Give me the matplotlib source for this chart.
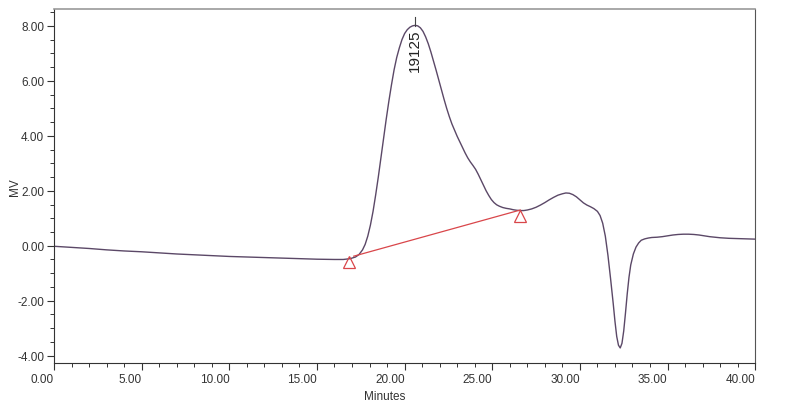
import matplotlib
matplotlib.use("Agg")
import matplotlib.pyplot as plt
from matplotlib.ticker import MultipleLocator, FormatStrFormatter

plt.rcParams['font.family'] = ['Liberation Sans', 'DejaVu Sans']

# chromatogram trace (minutes, MV)
minutes = [0.0, 1.0, 2.0, 3.0, 4.0, 5.0, 6.0, 7.0, 8.0, 9.0, 10.0, 11.0, 12.0,
           13.0, 14.0, 15.0, 16.0, 16.5, 16.9, 17.2, 17.4, 17.6, 17.75, 17.9,
           18.05, 18.2, 18.35, 18.5, 18.65, 18.8, 18.95, 19.1, 19.25, 19.4,
           19.55, 19.7, 19.85, 20.0, 20.15, 20.3, 20.45, 20.6, 20.75, 20.9,
           21.05, 21.2, 21.35, 21.5, 21.65, 21.8, 21.95, 22.1, 22.25, 22.4,
           22.55, 22.7, 22.85, 23.0, 23.15, 23.3, 23.45, 23.6, 23.75, 23.9,
           24.05, 24.2, 24.35, 24.5, 24.65, 24.8, 24.95, 25.1, 25.25, 25.4,
           25.6, 25.8, 26.0, 26.2, 26.4, 26.6, 26.8, 27.0, 27.25, 27.5, 27.75,
           28.0, 28.25, 28.5, 28.75, 29.0, 29.2, 29.4, 29.6, 29.8, 30.0, 30.2,
           30.4, 30.6, 30.8, 31.0, 31.15, 31.3, 31.45, 31.6, 31.75, 31.9,
           32.0, 32.1, 32.2, 32.3, 32.4, 32.5, 32.6, 32.7, 32.8, 32.9, 33.05,
           33.2, 33.35, 33.5, 33.7, 33.9, 34.1, 34.4, 34.7, 35.0, 35.3, 35.6,
           35.9, 36.2, 36.5, 36.8, 37.1, 37.4, 37.7, 38.0, 38.5, 39.0, 39.5,
           40.0]
mv = [-0.02, -0.06, -0.10, -0.15, -0.19, -0.22, -0.26, -0.30, -0.33, -0.36,
      -0.39, -0.41, -0.43, -0.45, -0.47, -0.49, -0.50, -0.50, -0.47, -0.41,
      -0.32, -0.15, 0.05, 0.35, 0.75, 1.25, 1.85, 2.5, 3.2, 3.9, 4.6, 5.25,
      5.85, 6.4, 6.85, 7.2, 7.5, 7.72, 7.86, 7.95, 8.0, 8.02, 8.0, 7.93,
      7.8, 7.6, 7.35, 7.05, 6.72, 6.38, 6.03, 5.68, 5.33, 5.0, 4.7, 4.43,
      4.2, 3.98, 3.78, 3.58, 3.38, 3.2, 3.05, 2.92, 2.78, 2.6, 2.4, 2.2,
      2.0, 1.83, 1.68, 1.57, 1.49, 1.44, 1.39, 1.36, 1.34, 1.31, 1.29,
      1.28, 1.28, 1.30, 1.34, 1.40, 1.48, 1.57, 1.67, 1.76, 1.84, 1.89,
      1.92, 1.91, 1.86, 1.78, 1.67, 1.56, 1.48, 1.42, 1.35, 1.25, 1.1,
      0.82, 0.35, -0.35, -1.2, -2.1, -2.75, -3.3, -3.62, -3.72, -3.55,
      -3.1, -2.45, -1.75, -1.15, -0.7, -0.3, -0.05, 0.1, 0.2, 0.25, 0.28,
      0.3, 0.31, 0.33, 0.36, 0.39, 0.41, 0.42, 0.42, 0.41, 0.39, 0.36,
      0.33, 0.31, 0.29, 0.27, 0.26, 0.25, 0.24]

# integration baseline and its start/end markers
base_x = [17.1, 26.6]
base_y = [-0.38, 1.30]
marker_x = [16.85, 26.58]
marker_y = [-0.58, 1.08]

peak_x = 20.6
peak_top = 8.33
peak_label = "19125"

fig = plt.figure(figsize=(8, 4.1), dpi=100)
ax = fig.add_axes([0.0675, 0.112, 0.8765, 0.864])

ax.plot(minutes, mv, color="#5b4867", lw=1.0)
ax.plot(base_x, base_y, color="#d9464a", lw=0.9)
ax.plot(marker_x, marker_y, ls="none", marker="^", ms=8, mfc="none",
        mec="#d9464a", mew=0.9)

# peak tick and label
ax.plot([peak_x, peak_x], [8.0, peak_top], color="#444444", lw=0.8)
ax.text(peak_x, 7.13, peak_label, rotation=90, ha="center", va="center",
        fontsize=11, color="#222222")

ax.set_xlim(0, 40.0)
ax.set_ylim(-4.27, 8.62)

ax.xaxis.set_major_locator(MultipleLocator(5))
ax.xaxis.set_minor_locator(MultipleLocator(1))
ax.yaxis.set_major_locator(MultipleLocator(2))
ax.yaxis.set_minor_locator(MultipleLocator(0.5))
ax.xaxis.set_major_formatter(FormatStrFormatter("%.2f"))
ax.yaxis.set_major_formatter(FormatStrFormatter("%.2f"))

ax.tick_params(which="major", length=5, width=0.8, color="#333333",
               labelsize=8.5, labelcolor="#333333", pad=2)
ax.tick_params(which="minor", length=3, width=0.7, color="#333333")
for lab in ax.get_xticklabels():
    lab.set_ha("right")

ax.spines["top"].set_color("#999999")
ax.spines["top"].set_linewidth(1.2)
ax.spines["right"].set_color("#555555")
ax.spines["left"].set_color("#333333")
ax.spines["bottom"].set_color("#333333")

ax.set_xlabel("Minutes", fontsize=8.5, color="#333333")
ax.xaxis.set_label_coords(0.472, -0.075)
ax.set_ylabel("MV", fontsize=8.5, color="#333333")
ax.yaxis.set_label_coords(-0.047, 0.5)

fig.savefig("out.png", dpi=100)
